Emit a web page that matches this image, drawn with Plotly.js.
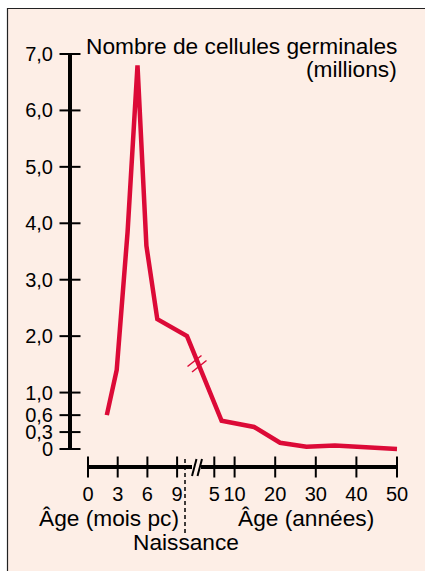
<!DOCTYPE html>
<html>
<head>
<meta charset="utf-8">
<script src="https://cdn.plot.ly/plotly-3.0.1.min.js"></script>
<style>html,body{margin:0;padding:0;background:#fff;}#chart{width:425px;height:571px;}</style>
</head>
<body>
<div id="chart"></div>
<script>
// ---- Data ----
const monthsPC = [1.9, 2.9, 4.0, 5.0, 5.9, 7.0, 10.0];          // age, months post-conception
const cellsMonths = [0.6, 1.4, 3.85, 6.8, 3.6, 2.3, 2.0];        // millions
const yearsAge = [6.8, 14.8, 21.2, 27.7, 34.7, 50];              // age, years
const cellsYears = [0.5, 0.39, 0.11, 0.04, 0.06, 0.0];           // millions
const monthTicks = [0, 3, 6, 9];
const yearTicks = [5, 10, 20, 30, 40, 50];
const yTicks = [0, 0.3, 0.6, 1, 2, 3, 4, 5, 6, 7];
const yTickText = ['0', '0,3', '0,6', '1,0', '2,0', '3,0', '4,0', '5,0', '6,0', '7,0'];

// ---- Scale geometry (pixels) ----
const W = 425, H = 571;
const M0 = 88, MPX = 9.9;       // month 0 position, px per month
const Y0 = 194, YPX = 4.06;     // year 0 position, px per year
const V0 = 449, VPX = 56.43;    // value 0 position, px per million
const XAXIS_PX = 467, YAXIS_PX = 70;
const MONTH_END = 192, YEAR_START = 201, YEAR_END = 397;

// broken x scale expressed in month units
const yearToPos = y => (Y0 - M0) / MPX + y * YPX / MPX;
const lineX = monthsPC.concat(yearsAge.map(yearToPos));
const lineY = cellsMonths.concat(cellsYears);

const axisYval = (V0 - XAXIS_PX) / VPX;   // hidden-y value of x axis line
const axisXval = (YAXIS_PX - M0) / MPX;   // hidden-x value of y axis line

const red = '#dc0a37';
const traces = [
  {x: lineX, y: lineY, xaxis: 'x', yaxis: 'y', mode: 'lines',
   line: {color: red, width: 4.5}, hoverinfo: 'skip'},
  {x: monthTicks, y: monthTicks.map(() => axisYval), xaxis: 'x2', yaxis: 'y', mode: 'markers', cliponaxis: false,
   marker: {symbol: 'line-ns', size: 15, line: {width: 2, color: '#000'}}, hoverinfo: 'skip'},
  {x: yearTicks, y: yearTicks.map(() => axisYval), xaxis: 'x3', yaxis: 'y', mode: 'markers', cliponaxis: false,
   marker: {symbol: 'line-ns', size: 15, line: {width: 2, color: '#000'}}, hoverinfo: 'skip'},
  {x: yTicks.map(() => axisXval), y: yTicks, xaxis: 'x', yaxis: 'y2', mode: 'markers', cliponaxis: false,
   marker: {symbol: 'line-ew', size: 15, line: {width: 2, color: '#000'}}, hoverinfo: 'skip'}
];

const px = v => v / W, py = v => (H - v) / H;
const font = {family: 'Liberation Sans, Arial, Helvetica, sans-serif', color: '#000'};
const tickFont = {size: 20, color: '#000', family: font.family};
const labelSize = 22.7;

const layout = {
  width: W, height: H,
  margin: {l: 0, r: 0, t: 0, b: 0, pad: 0},
  paper_bgcolor: '#ffffff', plot_bgcolor: 'rgba(0,0,0,0)',
  showlegend: false, font: font,
  xaxis: {domain: [0, 1], range: [-M0 / MPX, (W - M0) / MPX], visible: false, fixedrange: true},
  yaxis: {domain: [0, 1], range: [(V0 - H) / VPX, V0 / VPX], visible: false, fixedrange: true},
  xaxis2: {domain: [px(M0), px(MONTH_END)], range: [0, (MONTH_END - M0) / MPX], anchor: 'free', position: 1 - XAXIS_PX / H,
    showline: true, linewidth: 4, linecolor: '#000', ticks: '', showgrid: false, zeroline: false,
    tickmode: 'array', tickvals: monthTicks, ticktext: monthTicks.map(String),
    tickfont: tickFont, ticklabelstandoff: 8, fixedrange: true},
  xaxis3: {domain: [px(YEAR_START), px(YEAR_END)], range: [(YEAR_START - Y0) / YPX, (YEAR_END - Y0) / YPX], anchor: 'free', position: 1 - XAXIS_PX / H,
    showline: true, linewidth: 4, linecolor: '#000', ticks: '', showgrid: false, zeroline: false,
    tickmode: 'array', tickvals: yearTicks, ticktext: yearTicks.map(String),
    tickfont: tickFont, ticklabelstandoff: 8, fixedrange: true},
  yaxis2: {domain: [1 - V0 / H, 1 - (V0 - 7 * VPX) / H], range: [0, 7], anchor: 'free', position: px(YAXIS_PX),
    showline: true, linewidth: 4, linecolor: '#000', ticks: '', showgrid: false, zeroline: false,
    tickmode: 'array', tickvals: yTicks, ticktext: yTickText,
    tickfont: tickFont, ticklabelstandoff: 11, fixedrange: true},
  shapes: [
    {type: 'rect', xref: 'paper', yref: 'paper', x0: px(7.5), x1: 1.05, y0: -0.05, y1: py(8.5),
     fillcolor: '#fdeee6', line: {color: '#222', width: 1.2}, layer: 'below'},
    // axis break
    {type: 'line', xref: 'paper', yref: 'paper', x0: px(192), y0: py(476), x1: px(196.5), y1: py(459), line: {color: '#000', width: 2}},
    {type: 'line', xref: 'paper', yref: 'paper', x0: px(197.5), y0: py(476), x1: px(202), y1: py(459), line: {color: '#000', width: 2}},
    // curve break
    {type: 'line', xref: 'paper', yref: 'paper', x0: px(187.5), y0: py(366.5), x1: px(201.5), y1: py(355.5), line: {color: red, width: 1.5}},
    {type: 'line', xref: 'paper', yref: 'paper', x0: px(192), y0: py(372), x1: px(206.5), y1: py(360.5), line: {color: red, width: 1.5}},
    // birth
    {type: 'line', xref: 'paper', yref: 'paper', x0: px(185), y0: py(459), x1: px(185), y1: py(535), line: {color: '#000', width: 1.5, dash: '4px,3px'}}
  ],
  annotations: [
    {text: 'Nombre de cellules germinales', xref: 'paper', yref: 'paper', x: px(399), y: py(46), xanchor: 'right', yanchor: 'middle', showarrow: false, font: {size: labelSize}},
    {text: '(millions)', xref: 'paper', yref: 'paper', x: px(399), y: py(69), xanchor: 'right', yanchor: 'middle', showarrow: false, font: {size: labelSize}},
    {text: 'Âge (mois pc)', xref: 'paper', yref: 'paper', x: px(109), y: py(518), xanchor: 'center', yanchor: 'middle', showarrow: false, font: {size: labelSize}},
    {text: 'Âge (années)', xref: 'paper', yref: 'paper', x: px(306), y: py(518), xanchor: 'center', yanchor: 'middle', showarrow: false, font: {size: labelSize}},
    {text: 'Naissance', xref: 'paper', yref: 'paper', x: px(185.5), y: py(542), xanchor: 'center', yanchor: 'middle', showarrow: false, font: {size: labelSize}}
  ]
};

Plotly.newPlot('chart', traces, layout, {displayModeBar: false, staticPlot: true});
</script>
</body>
</html>
